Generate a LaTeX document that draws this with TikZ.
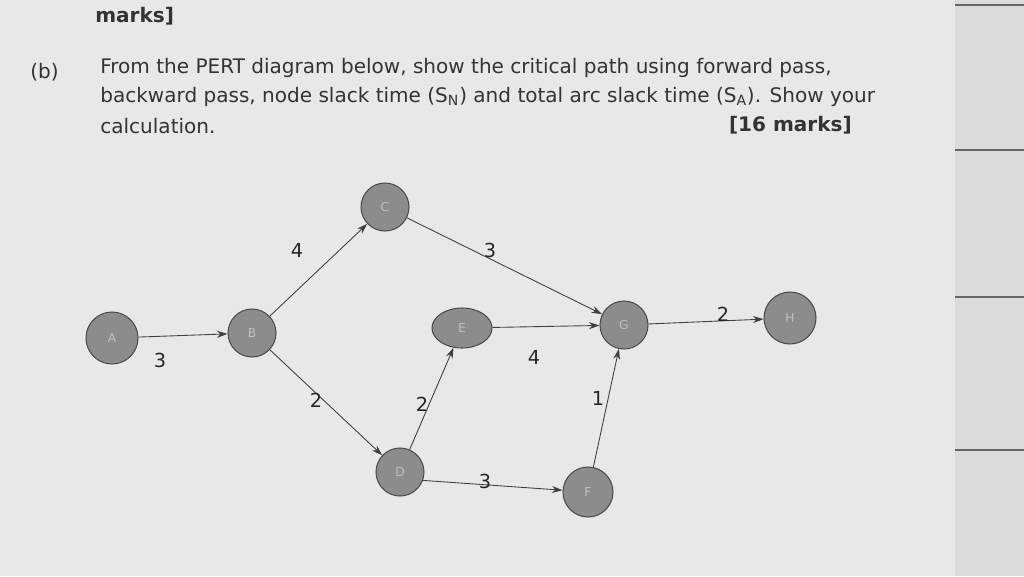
\documentclass[tikz,border=0pt]{standalone}
\usepackage{fontspec}
\setmainfont{DejaVu Sans}
\usetikzlibrary{arrows.meta,shapes.geometric}
\begin{document}
\begin{tikzpicture}[x=0.02cm,y=-0.02cm,
  ev/.style={circle,draw=black!70,fill=black!45,line width=0.6pt,minimum size=#1,inner sep=0pt,text=black!25,font=\fontsize{7}{8}\selectfont},
  ev/.default=0.96cm,
  arc/.style={draw=black!75,line width=0.5pt,-{Stealth[length=6pt,width=4pt]}},
  wt/.style={font=\fontsize{11}{13}\selectfont,text=black!85},
  txt/.style={anchor=base west,inner sep=0pt,font=\fontsize{11.4}{13}\selectfont,text=black!80}]
\useasboundingbox (0,0) rectangle (1024,576);
\fill[black!9] (0,0) rectangle (1024,576);
\fill[black!14] (955,0) rectangle (1024,576);
\foreach \y in {5,150,297,450} \draw[black!60,line width=0.6pt] (955,\y) -- (1024,\y);
\node[txt,font=\bfseries\fontsize{11.4}{13}\selectfont] (mk) at (95,22) {marks]};
\node[txt] (b) at (30,78) {(b)};
\node[txt] (l1) at (100,73) {From the PERT diagram below, show the critical path using forward pass,};
\node[txt] (l2) at (100,102) {backward pass, node slack time (S\textsubscript{N}) and total arc slack time (S\textsubscript{A}). Show your};
\node[txt] (l3) at (100,133) {calculation.};
\node[txt,anchor=base east,font=\bfseries\fontsize{11.4}{13}\selectfont] (l4) at (852,131) {[16 marks]};
\node[ev=1.04cm] (A) at (112,338) {A};
\node[ev] (B) at (252,333) {B};
\node[ev] (C) at (385,207) {C};
\node[ellipse,draw=black!70,fill=black!45,line width=0.6pt,minimum width=1.2cm,minimum height=0.8cm,inner sep=0pt,text=black!25,font=\fontsize{7}{8}\selectfont] (E) at (462,328) {E};
\node[ev] (G) at (624,325) {G};
\node[ev=1.04cm] (H) at (790,318) {H};
\node[ev] (D) at (400,472) {D};
\node[ev=1.0cm] (F) at (588,492) {F};
\draw[arc] (A) -- (B);
\draw[arc] (B) -- (C);
\draw[arc] (B) -- (D);
\draw[arc] (C) -- (G);
\draw[arc] (D) -- (E);
\draw[arc] (D.-20) -- (F);
\draw[arc] (E) -- (G);
\draw[arc] (F) -- (G);
\draw[arc] (G) -- (H);
\node[wt] (w1) at (160,360) {3};
\node[wt] (w2) at (297,250) {4};
\node[wt] (w3) at (316,400) {2};
\node[wt] (w4) at (490,250) {3};
\node[wt] (w5) at (422,404) {2};
\node[wt] (w6) at (534,357) {4};
\node[wt] (w7) at (598,398) {1};
\node[wt] (w8) at (485,481) {3};
\node[wt] (w9) at (723,314) {2};
\end{tikzpicture}
\end{document}
